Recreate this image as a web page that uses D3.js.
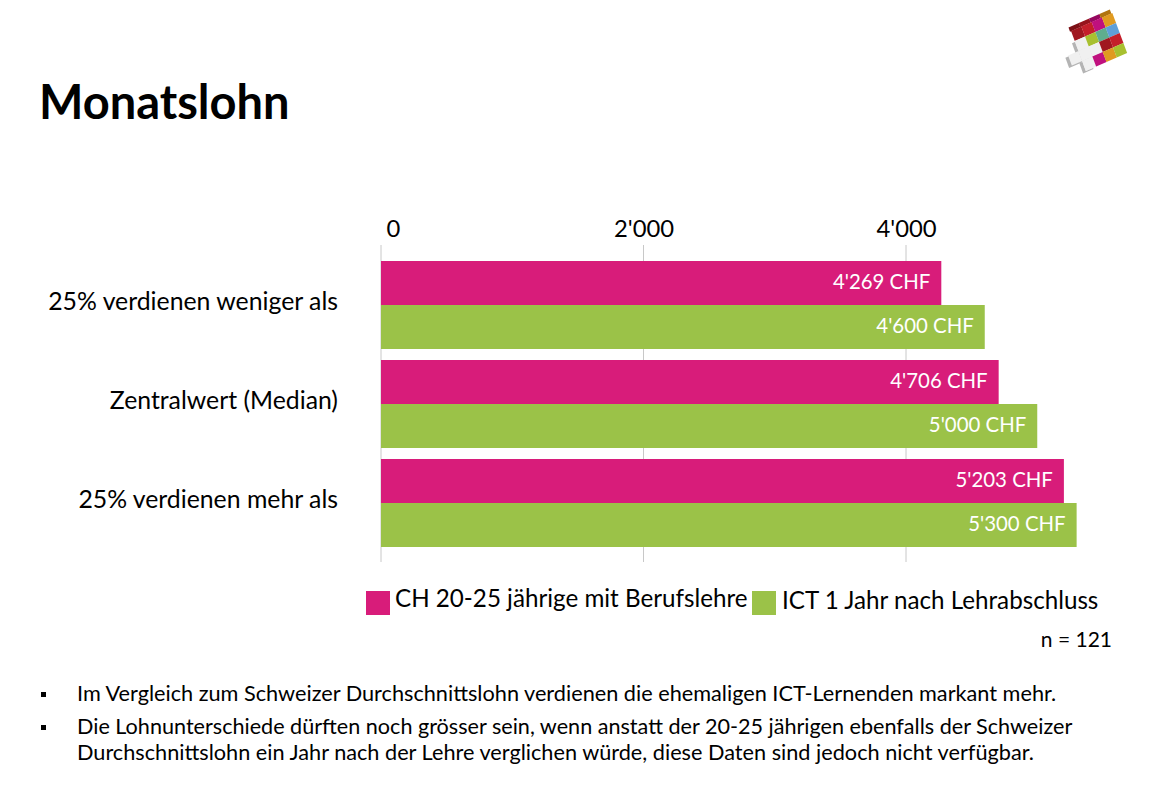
<!DOCTYPE html>
<html>
<head>
<meta charset="utf-8">
<script src="https://cdn.jsdelivr.net/npm/d3@7"></script>
<style>
body { margin: 0; background: #fff; }
text { font-family: Lato, "Open Sans", sans-serif; fill: #000; }
</style>
</head>
<body>
<svg id="chart" width="1170" height="788"></svg>
<script>
var categories = ["25% verdienen weniger als", "Zentralwert (Median)", "25% verdienen mehr als"];
var seriesNames = ["CH 20-25 jährige mit Berufslehre", "ICT 1 Jahr nach Lehrabschluss"];
var chValues = [4269, 4706, 5203];
var ictValues = [4600, 5000, 5300];
var tickValues = [0, 2000, 4000];
var colors = ["#d81c7a", "#9bc248"];
var notes = [
  ["Im Vergleich zum Schweizer Durchschnittslohn verdienen die ehemaligen ICT-Lernenden markant mehr."],
  ["Die Lohnunterschiede dürften noch grösser sein, wenn anstatt der 20-25 jährigen ebenfalls der Schweizer",
   "Durchschnittslohn ein Jahr nach der Lehre verglichen würde, diese Daten sind jedoch nicht verfügbar."]
];

var svg = d3.select("#chart");

function fmt(v) {
  return d3.format(",")(v).replace(/,/g, "'");
}

// title
svg.append("text")
  .attr("x", 39).attr("y", 119)
  .style("font-size", "47px").style("font-weight", 700)
  .text("Monatslohn");

// scales
var x = d3.scaleLinear().domain([0, 4000]).range([381, 906]);
var y = d3.scaleBand().domain(categories).range([255.5, 552.5])
  .paddingInner(1 / 9).paddingOuter(1 / 18);
var ySeries = d3.scaleBand().domain([0, 1]).range([0, y.bandwidth()]);

// axis on top, ticks are the grid lines
var axis = d3.axisTop(x)
  .tickValues(tickValues)
  .tickFormat(fmt)
  .tickSize(0);
var axisG = svg.append("g").attr("transform", "translate(0,245)").call(axis);
axisG.select(".domain").remove();
axisG.selectAll("text")
  .attr("y", -8)
  .attr("dx", function(d) { return d == 0 ? 12 : 0; })
  .style("font-size", "23.8px")
  .style("font-family", "Lato");

svg.append("g").selectAll("line")
  .data(tickValues)
  .join("line")
  .attr("x1", function(d) { return x(d); })
  .attr("x2", function(d) { return x(d); })
  .attr("y1", 245).attr("y2", 562)
  .attr("stroke", "#c8c8c8").attr("stroke-width", 1);

// bars
var series = [chValues, ictValues];
series.forEach(function(values, s) {
  var g = svg.append("g");
  g.selectAll("rect")
    .data(values)
    .join("rect")
    .attr("x", x(0))
    .attr("y", function(d, i) { return y(categories[i]) + ySeries(s); })
    .attr("width", function(d) { return x(d) - x(0); })
    .attr("height", ySeries.bandwidth())
    .attr("fill", colors[s]);
  g.selectAll("text")
    .data(values)
    .join("text")
    .attr("x", function(d) { return x(d) - 11; })
    .attr("y", function(d, i) { return y(categories[i]) + ySeries(s) + ySeries.bandwidth() / 2 + 5.5; })
    .attr("text-anchor", "end")
    .style("font-size", "20.4px")
    .style("fill", "#fff")
    .text(function(d) { return fmt(d) + " CHF"; });
});

// category labels
svg.append("g").selectAll("text")
  .data(categories)
  .join("text")
  .attr("x", 338)
  .attr("y", function(d) { return y(d) + y.bandwidth() / 2 + 4.5; })
  .attr("text-anchor", "end")
  .style("font-size", "24.8px")
  .text(function(d) { return d; });

// legend
var legendX = [366, 752];
var legendY = [591, 591];
seriesNames.forEach(function(name, i) {
  svg.append("rect")
    .attr("x", legendX[i]).attr("y", legendY[i])
    .attr("width", 24).attr("height", 24)
    .attr("fill", colors[i]);
  svg.append("text")
    .attr("x", legendX[i] + 29 + i).attr("y", 607 + i * 2)
    .style("font-size", "24.2px")
    .text(name);
});

svg.append("text")
  .attr("x", 1112).attr("y", 647)
  .attr("text-anchor", "end")
  .style("font-size", "21px")
  .text("n = 121");

// notes with square bullets
var noteY = [701, 734];
notes.forEach(function(lines, i) {
  svg.append("rect")
    .attr("x", 41).attr("y", noteY[i] - 9)
    .attr("width", 5).attr("height", 5)
    .attr("fill", "#000");
  lines.forEach(function(line, j) {
    svg.append("text")
      .attr("x", 77).attr("y", noteY[i] + j * 26)
      .style("font-size", j == 0 && i == 1 ? "21.6px" : "21.7px")
      .text(line);
  });
});

// logo: tilted block of coloured squares with a white cross cut into it
var logoColors = [
  ["#a01820", "#c41f2a", "#c0107e", "#e09a20"],
  ["#f0f0f0", "#a8c030", "#5fae8e", "#5f9fd8"],
  ["#f0f0f0", "#f0f0f0", "#a01820", "#c41f2a"],
  ["#f0f0f0", "#c0107e", "#e09a20", "#a8c030"]
];
var logoTop = ["#7c1016", "#96141c", "#96085f", "#b07410"];
var logo = svg.append("g").attr("transform", "matrix(10.3,-4.5,3.7,10,1071,31)");
var crossCells = [[-1, 2], [0, 1], [0, 2], [0, 3], [1, 2]];
logo.selectAll(".shade")
  .data(crossCells)
  .join("rect")
  .attr("class", "shade")
  .attr("x", function(d) { return d[0] - 0.3; })
  .attr("y", function(d) { return d[1] + 0.1; })
  .attr("width", 1.01).attr("height", 1.01)
  .attr("fill", "#b4b4b4");
logo.selectAll(".top")
  .data(logoTop)
  .join("rect")
  .attr("class", "top")
  .attr("x", function(d, c) { return c - 0.1; })
  .attr("y", -0.4)
  .attr("width", 1.01).attr("height", 0.42)
  .attr("fill", function(d) { return d; });
logo.selectAll(".cross")
  .data(crossCells)
  .join("rect")
  .attr("class", "cross")
  .attr("x", function(d) { return d[0]; })
  .attr("y", function(d) { return d[1]; })
  .attr("width", 1.01).attr("height", 1.01)
  .attr("fill", "#f0f0f0");
logoColors.forEach(function(row, r) {
  logo.selectAll(null)
    .data(row)
    .join("rect")
    .attr("x", function(d, c) { return c; })
    .attr("y", r)
    .attr("width", 1.01).attr("height", 1.01)
    .attr("fill", function(d) { return d; });
});
</script>
</body>
</html>
